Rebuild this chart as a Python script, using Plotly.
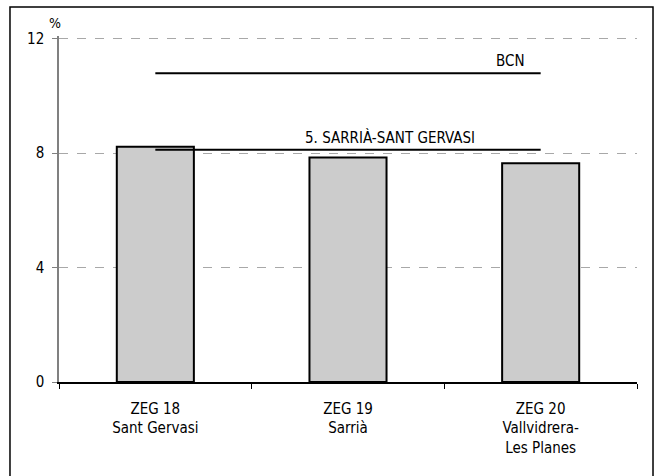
import plotly.graph_objects as go

categories = ["ZEG 18<br>Sant Gervasi", "ZEG 19<br>Sarrià", "ZEG 20<br>Vallvidrera-<br>Les Planes"]
values = [8.23, 7.85, 7.65]
bcn_value = 10.8
district_value = 8.12
district_label = "5. SARRIÀ-SANT GERVASI"
bcn_label = "BCN"
y_ticks = [0, 4, 8, 12]

FONT = "Liberation Sans Narrow, DejaVu Sans Condensed, sans-serif"

fig = go.Figure()
fig.add_trace(go.Bar(
    x=categories, y=values,
    marker=dict(color="#cccccc", line=dict(color="black", width=2)),
    width=0.4, showlegend=False, hoverinfo="skip",
))
fig.add_trace(go.Scatter(
    x=[categories[0], categories[-1]], y=[bcn_value, bcn_value],
    mode="lines", line=dict(color="black", width=2), showlegend=False, hoverinfo="skip",
))
fig.add_trace(go.Scatter(
    x=[categories[0], categories[-1]], y=[district_value, district_value],
    mode="lines", line=dict(color="black", width=2), showlegend=False, hoverinfo="skip",
))

fig.add_annotation(x=categories[-1], y=bcn_value, text=bcn_label, showarrow=False,
                   xanchor="right", yanchor="bottom", xshift=-14, yshift=1,
                   font=dict(family=FONT, size=15, color="black"))
fig.add_annotation(x=categories[-1], y=district_value, text=district_label, showarrow=False,
                   xanchor="right", yanchor="bottom", xshift=-64, yshift=1,
                   font=dict(family=FONT, size=15, color="black"))
fig.add_annotation(x=-0.007, y=1.038, xref="paper", yref="paper", text="%", showarrow=False,
                   xanchor="center", yanchor="middle",
                   font=dict(family=FONT, size=14, color="black"))

# outer frame
fig.add_shape(type="rect", xref="paper", yref="paper",
              x0=-0.0848, x1=1.0277, y0=-0.4, y1=1.0838,
              line=dict(color="black", width=1.5), fillcolor="rgba(0,0,0,0)", layer="below")

fig.update_layout(
    width=655, height=476,
    margin=dict(l=59, r=18, t=36, b=94),
    paper_bgcolor="white", plot_bgcolor="white",
    font=dict(family=FONT, size=15, color="black"),
    bargap=0.6,
    xaxis=dict(
        type="category", showgrid=False, tickson="boundaries",
        ticks="outside", ticklen=5, tickcolor="black",
        showline=True, linecolor="black", linewidth=1.5,
        tickfont=dict(family=FONT, size=15, color="black"),
        ticklabelstandoff=12,
        range=[-0.5, 2.5],
    ),
    yaxis=dict(
        range=[0, 12.1], tickvals=y_ticks, showgrid=True,
        gridcolor="#a8a8a8", griddash="dash", gridwidth=1,
        zeroline=False, showline=True, linecolor="#808080", linewidth=1.5,
        ticks="outside", ticklen=5, tickcolor="#808080",
        ticklabelstandoff=5,
        tickfont=dict(family=FONT, size=15, color="black"),
    ),
)

fig.write_html("out.html", config={"displayModeBar": False},
               post_script="document.body.style.margin='0px';document.body.style.padding='0px';")
